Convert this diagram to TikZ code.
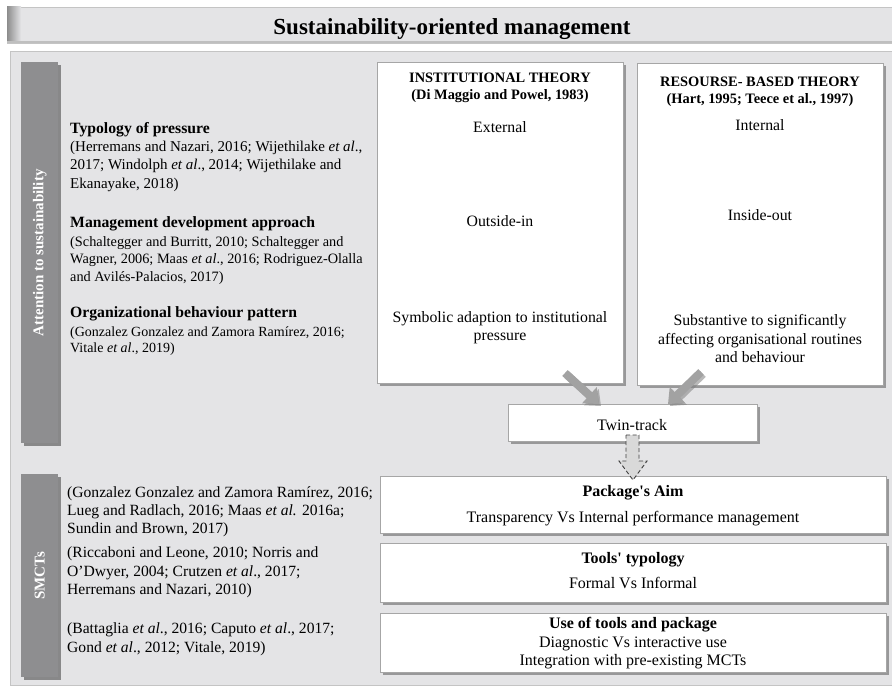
\documentclass[tikz,border=0pt]{standalone}
\usepackage{fontspec}
\setmainfont{Liberation Serif}
\usetikzlibrary{shadows,arrows.meta}
\definecolor{panelgray}{HTML}{E4E4E6}
\definecolor{bargray}{HTML}{8E8E90}
\definecolor{arrowgray}{HTML}{A2A2A2}
\definecolor{edgegray}{HTML}{C4C4C4}
\begin{document}
\begin{tikzpicture}[x=1pt,y=-1pt,
  wbox/.style={draw=black!35, line width=0.5pt, fill=white, anchor=north west, inner sep=0pt,
    drop shadow={shadow xshift=2.5pt,shadow yshift=-2.5pt,fill=black!60,opacity=0.6}},
  vbar/.style={fill=bargray, anchor=north west, inner sep=0pt, minimum width=37pt,
    drop shadow={shadow xshift=2.5pt,shadow yshift=-2.5pt,fill=black!70,opacity=0.6}},
  vtext/.style={rotate=90, text=white, font=\bfseries\fontsize{15}{17}\selectfont},
  lt/.style={anchor=base west, inner sep=0pt, font=\fontsize{15}{18}\selectfont},
  ltb/.style={anchor=base west, inner sep=0pt, font=\fontsize{14.3}{18}\selectfont},
  ltc/.style={anchor=base west, inner sep=0pt, font=\fontsize{14}{18}\selectfont},
  lh/.style={anchor=base west, inner sep=0pt, font=\bfseries\fontsize{15.7}{18}\selectfont},
  llt/.style={anchor=base west, inner sep=0pt, font=\fontsize{15.6}{18}\selectfont},
  bt/.style={anchor=base, inner sep=0pt, font=\fontsize{15.8}{18}\selectfont},
  bh/.style={anchor=base, inner sep=0pt, font=\bfseries\fontsize{14.4}{16}\selectfont},
  lbt/.style={anchor=base, inner sep=0pt, font=\fontsize{16}{18}\selectfont},
  lbh/.style={anchor=base, inner sep=0pt, font=\bfseries\fontsize{16}{18}\selectfont},
  bigarrow/.style={line width=8pt, draw=arrowgray, -{Triangle[length=13pt,width=21pt]}},
  bigshadow/.style={line width=8pt, draw=black!50, opacity=0.55, -{Triangle[length=13pt,width=21pt]}},
  dasharrow/.style={draw=black!75, fill=gray!30, line width=0.9pt, dash pattern=on 4pt off 2.5pt}
]
\useasboundingbox (0,0) rectangle (892,687);
% title bar
\node[fill=panelgray, draw=edgegray, anchor=north west, inner sep=0pt, minimum width=900pt, minimum height=36pt] (titlebar) at (7,7) {};
\shade[left color=black!45, right color=panelgray] (7,7) rectangle (21,43);
\fill[black!25] (7,41.5) rectangle (892,43);
\node[font=\bfseries\fontsize{23}{26}\selectfont, anchor=base] (title) at (452,35) {Sustainability-oriented management};
% main panel
\node[fill=panelgray, draw=edgegray, line width=0.8pt, anchor=north west, inner sep=0pt, minimum width=900pt, minimum height=634pt] (panel) at (10,51) {};
% vertical bars
\node[vbar, minimum height=381pt] (att) at (21,62) {};
\node[vtext] (atttext) at (att.center) {Attention to sustainability};
\node[vbar, minimum height=203pt] (smct) at (21,474) {};
\node[vtext] (smcttext) at (smct.center) {SMCTs};
% theory boxes
\node[wbox, minimum width=246pt, minimum height=321pt] (inst) at (377,62) {};
\node[wbox, minimum width=246pt, minimum height=322pt] (res) at (637,63) {};
\node[wbox, minimum width=249pt, minimum height=37pt] (twin) at (508,404) {};
% lower boxes
\node[wbox, minimum width=506pt, minimum height=57pt] (aim) at (380,476) {};
\node[wbox, minimum width=506pt, minimum height=59pt] (tools) at (380,543) {};
\node[wbox, minimum width=506pt, minimum height=59pt] (use) at (380,613) {};
% institutional texts
\node[bh] (ih1) at (500,83) {INSTITUTIONAL THEORY};
\node[bh] (ih2) at (500,100) {(Di Maggio and Powel, 1983)};
\node[bt] (iext) at (500,133) {External};
\node[bt] (iout) at (500,227) {Outside-in};
\node[bt] (isym1) at (500,322) {Symbolic adaption to institutional};
\node[bt] (isym2) at (500,340) {pressure};
% resource texts
\node[bh] (rh1) at (760,87) {RESOURSE- BASED THEORY};
\node[bh] (rh2) at (760,104) {(Hart, 1995; Teece et al., 1997)};
\node[bt] (rint) at (760,131) {Internal};
\node[bt] (rin) at (760,221) {Inside-out};
\node[bt] (rsub1) at (760,325) {Substantive to significantly};
\node[bt] (rsub2) at (760,344) {affecting organisational routines};
\node[bt] (rsub3) at (760,362) {and behaviour};
% twin
\node[lbt] (twintext) at (632,430) {Twin-track};
% lower box texts
\node[lbh] (aimh) at (633,496) {Package\textquotesingle s Aim};
\node[lbt] (aimt) at (633,522) {Transparency Vs Internal performance management};
\node[lbh] (toolsh) at (633,563) {Tools\textquotesingle\ typology};
\node[lbt] (toolst) at (633,588) {Formal Vs Informal};
\node[lbh] (useh) at (633,628) {Use of tools and package};
\node[lbt] (uset1) at (633,647) {Diagnostic Vs interactive use};
\node[lbt] (uset2) at (633,665) {Integration with pre-existing MCTs};
% left upper texts
\node[lh] (p1h) at (70,134) {Typology of pressure};
\node[lt] (p1a) at (70,152) {(Herremans and Nazari, 2016; Wijethilake \textit{et al}.,};
\node[lt] (p1b) at (70,170) {2017; Windolph \textit{et al}., 2014; Wijethilake and};
\node[lt] (p1c) at (70,189) {Ekanayake, 2018)};
\node[lh] (p2h) at (70,228) {Management development approach};
\node[ltb] (p2a) at (70,247) {(Schaltegger and Burritt, 2010; Schaltegger and};
\node[ltb] (p2b) at (70,264) {Wagner, 2006; Maas \textit{et al}., 2016; Rodriguez-Olalla};
\node[ltb] (p2c) at (70,281) {and Avilés-Palacios, 2017)};
\node[lh] (p3h) at (70,317) {Organizational behaviour pattern};
\node[ltc] (p3a) at (70,336) {(Gonzalez Gonzalez and Zamora Ramírez, 2016;};
\node[ltc] (p3b) at (70,352) {Vitale \textit{et al}., 2019)};
% left lower texts
\node[llt] (q1a) at (67,497) {(Gonzalez Gonzalez and Zamora Ramírez, 2016;};
\node[llt] (q1b) at (67,515) {Lueg and Radlach, 2016; Maas \textit{et al.} 2016a;};
\node[llt] (q1c) at (67,533) {Sundin and Brown, 2017)};
\node[llt] (q2a) at (67,557) {(Riccaboni and Leone, 2010; Norris and};
\node[llt] (q2b) at (67,576) {O’Dwyer, 2004; Crutzen \textit{et al}., 2017;};
\node[llt] (q2c) at (67,594) {Herremans and Nazari, 2010)};
\node[llt] (q3a) at (67,633) {(Battaglia \textit{et al}., 2016; Caputo \textit{et al}., 2017;};
\node[llt] (q3b) at (67,652) {Gond \textit{et al}., 2012; Vitale, 2019)};
% arrows
\coordinate (a1s) at (565,373);
\coordinate (a1e) at (599,404);
\coordinate (a2s) at (701,372);
\coordinate (a2e) at (668,404);
\draw[bigshadow] ([shift={(2,2)}]a1s) -- ([shift={(2,2)}]a1e);
\draw[bigshadow] ([shift={(2,2)}]a2s) -- ([shift={(2,2)}]a2e);
\draw[bigarrow] (a1s) -- (a1e);
\draw[bigarrow] (a2s) -- (a2e);
% dashed block arrow from twin-track to package's aim
\draw[dasharrow] (626,435) -- (639,435) -- (639,461) -- (647,461) -- (633,480) -- (619,461) -- (626,461) -- cycle;
\end{tikzpicture}
\end{document}
